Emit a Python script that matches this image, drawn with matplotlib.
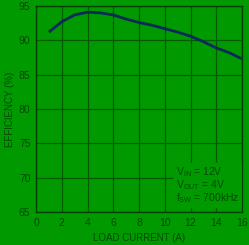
import numpy as np
import matplotlib
matplotlib.use("Agg")
import matplotlib.pyplot as plt

# data
load_current = [1, 2, 3, 4, 5, 6, 7, 8, 9, 10, 11, 12, 13, 14, 15, 16]
efficiency = [91.2, 92.7, 93.7, 94.1, 94.0, 93.7, 93.1, 92.6, 92.2, 91.7,
              91.2, 90.6, 89.8, 88.9, 88.2, 87.3]
x_ticks = [0, 2, 4, 6, 8, 10, 12, 14, 16]
y_ticks = [65, 70, 75, 80, 85, 90, 95]

bg = "#009a00"
grid_col = "#005a00"
txt_col = "#004a00"

plt.rcParams['font.family'] = ['Liberation Sans', 'DejaVu Sans']

fig = plt.figure(figsize=(2.49, 2.45), dpi=100, facecolor=bg)
ax = fig.add_axes([36 / 249, 1 - 212 / 245, 206 / 249, 206 / 245])
ax.set_facecolor(bg)

ax.plot(load_current, efficiency, color="#0a2a5a", lw=2.0, solid_capstyle="butt", zorder=3)

ax.set_xlim(0, 16)
ax.set_ylim(65, 95)
ax.set_xticks(x_ticks)
ax.set_yticks(y_ticks)
ax.grid(True, color=grid_col, lw=0.9)
ax.tick_params(length=0, colors=txt_col, labelsize=7.5, pad=4)
for s in ax.spines.values():
    s.set_color("#004000")
    s.set_linewidth(1.0)

ax.set_xlabel("LOAD CURRENT (A)", color=txt_col, fontsize=7, labelpad=4)
ax.set_ylabel("EFFICIENCY (%)", color=txt_col, fontsize=7, labelpad=3)

ax.text(0.68, 0.13,
        "V$_{\\mathregular{IN}}$ = 12V\nV$_{\\mathregular{OUT}}$ = 4V\nf$_{\\mathregular{SW}}$ = 700kHz",
        transform=ax.transAxes, ha="left", va="center", color=txt_col, fontsize=7.5,
        linespacing=0.9,
        bbox=dict(facecolor=bg, edgecolor="none", pad=2), zorder=4)

fig.savefig("out.png", dpi=100, facecolor=bg)
